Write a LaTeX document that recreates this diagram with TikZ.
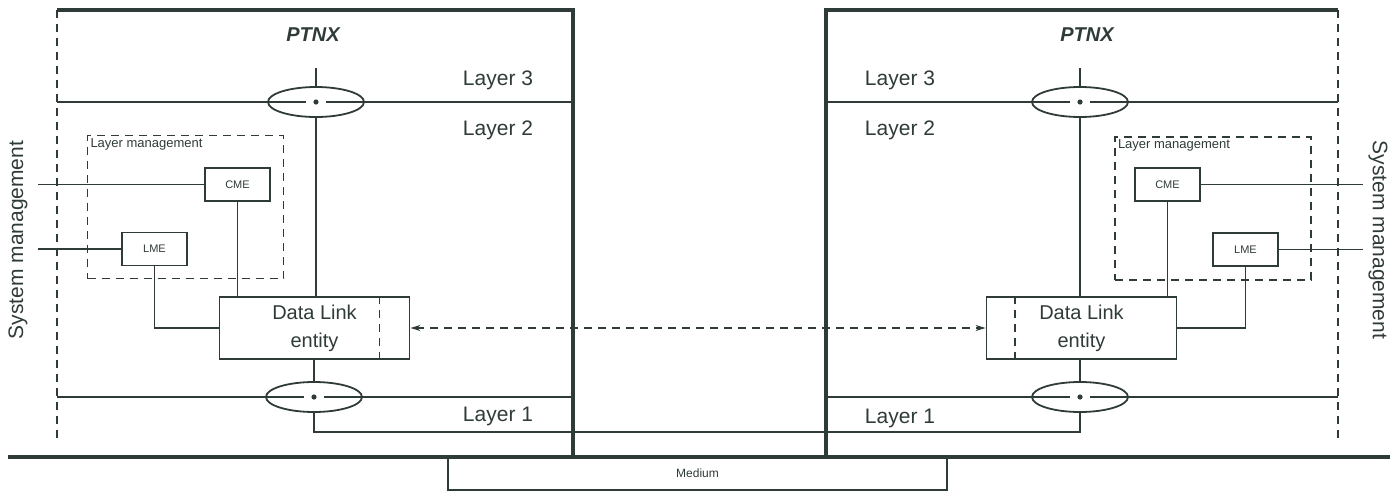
\documentclass[tikz,border=0pt]{standalone}
\usepackage{fontspec}
\setmainfont{Liberation Sans}
\usepackage{xcolor}
\usetikzlibrary{arrows.meta,positioning,shapes.geometric}
\definecolor{ink}{HTML}{2F3B39}

\begin{document}
\begin{tikzpicture}[x=0.5pt,y=-0.5pt,line width=0.9pt,color=ink,
  every node/.append style={align=center},
  frame/.style={line width=1.6pt},
  side/.style={dash pattern=on 4pt off 3pt},
  sap/.style={ellipse,draw,minimum width=48pt,minimum height=15pt,inner sep=0pt},
  dle/.style={rectangle,draw,minimum width=95pt,minimum height=31pt,inner sep=0pt,font=\fontsize{10}{14}\selectfont},
  mgmt/.style={rectangle,draw,minimum width=32.5pt,minimum height=16.5pt,inner sep=0pt,font=\fontsize{5.5}{6}\selectfont},
  lmbox/.style={rectangle,draw,side,minimum width=98pt,minimum height=71.5pt,inner sep=0pt},
  small/.style={font=\fontsize{6.5}{7}\selectfont,inner sep=1.5pt},
  layer/.style={font=\fontsize{10.5}{12}\selectfont},
  ptnx/.style={font=\fontsize{10}{12}\selectfont\bfseries\itshape},
  sysm/.style={font=\fontsize{10.5}{12}\selectfont},
  link/.style={side,{Stealth[length=5pt,width=3pt]}-{Stealth[length=5pt,width=3pt]}}]
    \useasboundingbox (0,0) rectangle (1394,493);
    % left PTNX
    \draw[frame] (57,10) -- (573,10) -- (573,457);
    \draw[side] (57,10) -- (57,442);
    \node[ptnx] (ptnxL) at (313,35) {PTNX};
    \node[sap] (l3L) at (316,102) {};
    \node[sap] (l1L) at (314,397) {};
    \fill (l3L) circle (1.3pt);
    \fill (l1L) circle (1.3pt);
    \draw (57,102) -- ([xshift=-5pt]l3L.center) ([xshift=5pt]l3L.center) -- (573,102);
    \draw (57,397) -- ([xshift=-5pt]l1L.center) ([xshift=5pt]l1L.center) -- (573,397);
    \draw (l3L.north) -- ++(0,-18);
    \node[layer] (l3txtL) at (498,80) {Layer 3};
    \node[layer] (l2txtL) at (498,130) {Layer 2};
    \node[layer] (l1txtL) at (498,416) {Layer 1};
    \node[lmbox] (lmL) at (185.5,207) {};
    \node[small, anchor=north west] (lmtxtL) at (lmL.north west) {Layer management};
    \node[mgmt] (cmeL) at (237.5,184.5) {CME};
    \node[mgmt] (lmeL) at (154.5,249) {LME};
    \node[dle] (dlL) at (314.5,328) {Data Link\\entity};
    \draw[side] ([xshift=-15.5pt]dlL.north east) -- ([xshift=-15.5pt]dlL.south east);
    \coordinate (smL1) at (38,184.5);
    \coordinate (smL2) at (38,249);
    \node[sysm, rotate=90] (sysL) at (18,240) {System management};
    \draw (smL1) -- (cmeL.west);
    \draw (smL2) -- (lmeL.west);
    \draw (l3L.south) -- (l3L.south |- dlL.north);
    \draw (l1L.north) -- (l1L.north |- dlL.south);
    \draw (cmeL.south) -- (cmeL.south |- dlL.north);
    \draw (lmeL.south) |- (dlL.west);
    % right PTNX
    \draw[frame] (1338,10) -- (826,10) -- (826,457);
    \draw[side] (1338,10) -- (1338,442);
    \node[ptnx] (ptnxR) at (1087,35) {PTNX};
    \node[sap] (l3R) at (1080,102) {};
    \node[sap] (l1R) at (1080,397) {};
    \fill (l3R) circle (1.3pt);
    \fill (l1R) circle (1.3pt);
    \draw (826,102) -- ([xshift=-5pt]l3R.center) ([xshift=5pt]l3R.center) -- (1338,102);
    \draw (826,397) -- ([xshift=-5pt]l1R.center) ([xshift=5pt]l1R.center) -- (1338,397);
    \draw (l3R.north) -- ++(0,-18);
    \node[layer] (l3txtR) at (900,80) {Layer 3};
    \node[layer] (l2txtR) at (900,130) {Layer 2};
    \node[layer] (l1txtR) at (900,418) {Layer 1};
    \node[lmbox] (lmR) at (1213,208.5) {};
    \node[small, anchor=north west] (lmtxtR) at (lmR.north west) {Layer management};
    \node[mgmt] (cmeR) at (1167.5,184.5) {CME};
    \node[mgmt] (lmeR) at (1245.5,249.5) {LME};
    \node[dle] (dlR) at (1081.5,328) {Data Link\\entity};
    \draw[side] ([xshift=14.5pt]dlR.north west) -- ([xshift=14.5pt]dlR.south west);
    \coordinate (smR1) at (1363,184.5);
    \coordinate (smR2) at (1363,249.5);
    \node[sysm, rotate=-90] (sysR) at (1378,240) {System management};
    \draw (cmeR.east) -- (smR1);
    \draw (lmeR.east) -- (smR2);
    \draw (l3R.south) -- (l3R.south |- dlR.north);
    \draw (l1R.north) -- (l1R.north |- dlR.south);
    \draw (cmeR.south) -- (cmeR.south |- dlR.north);
    \draw (lmeR.south) |- (dlR.east);
    % peer link, layer 1 and medium
    \draw[link] (dlL.east) -- (dlR.west);
    \draw (l1L.south) -- ++(0,19) -| (l1R.south);
    \draw[line width=1.9pt] (8,457) -- (1390,457);
    \node[draw, line width=1.3pt, minimum width=249.5pt, minimum height=16.5pt, inner sep=0pt, font=\fontsize{6}{7}\selectfont] (med) at (697.5,473.5) {Medium};
\end{tikzpicture}
\end{document}
